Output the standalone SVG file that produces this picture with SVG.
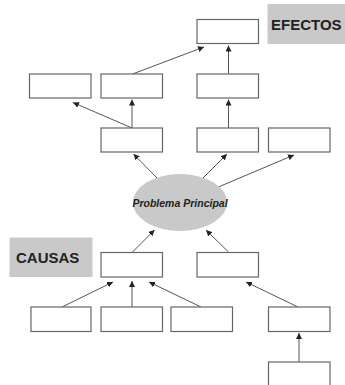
<svg xmlns="http://www.w3.org/2000/svg" width="345" height="385" viewBox="0 0 345 385">
<style>
.box{fill:#fff;stroke:#666;stroke-width:1.2}
.lbl{fill:#c9c9c9}
.con{stroke:#555;stroke-width:1;fill:none;marker-end:url(#ah)}
.t{font-family:"Liberation Sans",Arial,sans-serif;font-weight:bold;fill:#222}
</style>
<defs>
<marker id="ah" markerUnits="userSpaceOnUse" markerWidth="6" markerHeight="6" refX="6" refY="3" orient="auto">
<path d="M0,0 L6,3 L0,6 z" fill="#222"/>
</marker>
</defs>
<rect width="345" height="385" fill="#fff"/>
<g id="connectors">
<line class="con" x1="132.5" y1="74" x2="204" y2="47"/>
<line class="con" x1="228.5" y1="74" x2="228.5" y2="45.5"/>
<line class="con" x1="132" y1="128" x2="73" y2="102.5"/>
<line class="con" x1="132" y1="128" x2="132" y2="99.5"/>
<line class="con" x1="228.5" y1="128" x2="228.5" y2="99.5"/>
<line class="con" x1="157" y1="178" x2="133.5" y2="154"/>
<line class="con" x1="203" y1="178" x2="227" y2="154"/>
<line class="con" x1="216" y1="188" x2="294" y2="155"/>
<line class="con" x1="132.5" y1="252" x2="154.5" y2="230"/>
<line class="con" x1="228.5" y1="252" x2="206" y2="230"/>
<line class="con" x1="62" y1="307" x2="113" y2="282"/>
<line class="con" x1="132" y1="307" x2="132" y2="281"/>
<line class="con" x1="201" y1="307" x2="149" y2="282"/>
<line class="con" x1="298" y1="307" x2="246" y2="282"/>
<line class="con" x1="299" y1="362" x2="299" y2="333"/>
</g>
<g id="efectos-label"><rect class="lbl" x="267.5" y="4" width="77.5" height="40"/><text class="t" x="271" y="30" font-size="15">EFECTOS</text></g>
<g id="causas-label"><rect class="lbl" x="9.5" y="237.5" width="83" height="39.5"/><text class="t" x="16" y="262.5" font-size="15">CAUSAS</text></g>
<g id="e-top"><rect class="box" x="197" y="19.5" width="61.5" height="24"/></g>
<g id="e2-1"><rect class="box" x="29.5" y="74" width="61.5" height="24"/></g>
<g id="e2-2"><rect class="box" x="101" y="74" width="61.5" height="24"/></g>
<g id="e2-3"><rect class="box" x="197" y="74" width="61.5" height="24"/></g>
<g id="e3-1"><rect class="box" x="101" y="128" width="61.5" height="24"/></g>
<g id="e3-2"><rect class="box" x="197" y="128" width="61.5" height="24"/></g>
<g id="e3-3"><rect class="box" x="268.5" y="128" width="61.5" height="24"/></g>
<g id="problema"><ellipse cx="180" cy="202.5" rx="47" ry="28.5" fill="#c9c9c9"/><text class="t" x="180" y="206.5" font-size="10.5" font-style="italic" text-anchor="middle">Problema Principal</text></g>
<g id="c1-1"><rect class="box" x="101" y="252.5" width="61.5" height="24.5"/></g>
<g id="c1-2"><rect class="box" x="197" y="252.5" width="61.5" height="24.5"/></g>
<g id="c2-1"><rect class="box" x="31" y="307" width="60" height="24.5"/></g>
<g id="c2-2"><rect class="box" x="101" y="307" width="61.5" height="24.5"/></g>
<g id="c2-3"><rect class="box" x="171" y="307" width="61.5" height="24.5"/></g>
<g id="c2-4"><rect class="box" x="268.5" y="307" width="61.5" height="24.5"/></g>
<g id="c3-1"><rect class="box" x="268.5" y="362" width="61.5" height="26"/></g>
</svg>
